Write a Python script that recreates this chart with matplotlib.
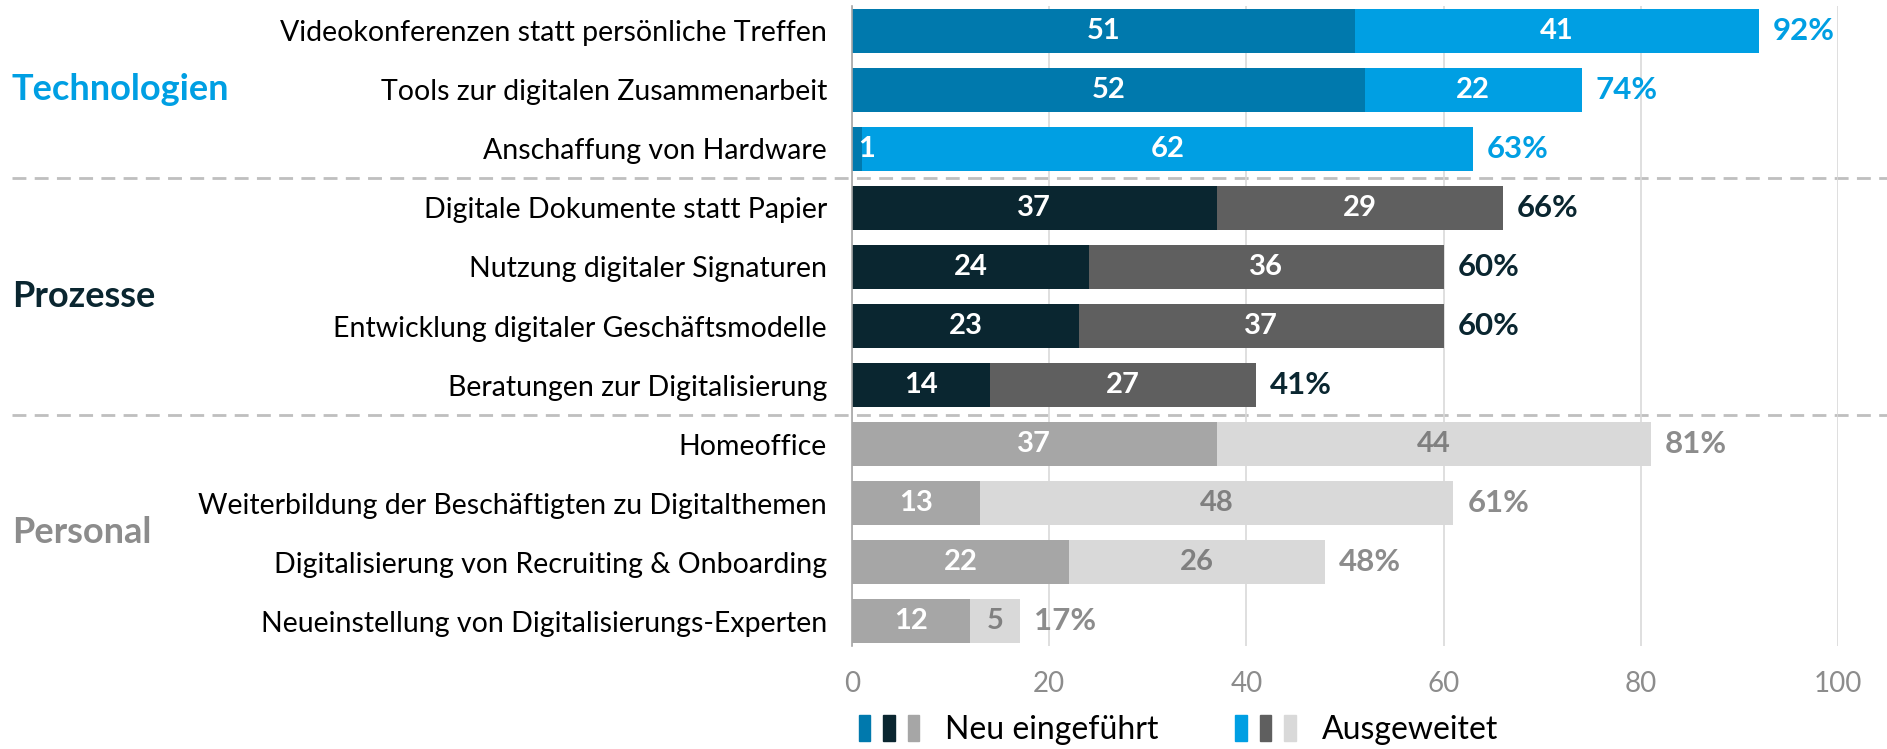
import matplotlib.pyplot as plt
import matplotlib.transforms as mtransforms
from matplotlib.legend_handler import HandlerTuple
from matplotlib.patches import Patch

categories = ["Videokonferenzen statt persönliche Treffen",
              "Tools zur digitalen Zusammenarbeit",
              "Anschaffung von Hardware",
              "Digitale Dokumente statt Papier",
              "Nutzung digitaler Signaturen",
              "Entwicklung digitaler Geschäftsmodelle",
              "Beratungen zur Digitalisierung",
              "Homeoffice",
              "Weiterbildung der Beschäftigten zu Digitalthemen",
              "Digitalisierung von Recruiting & Onboarding",
              "Neueinstellung von Digitalisierungs-Experten"]
new_vals = [51, 52, 1, 37, 24, 23, 14, 37, 13, 22, 12]
exp_vals = [41, 22, 62, 29, 36, 37, 27, 44, 48, 26, 5]
group_of = [0, 0, 0, 1, 1, 1, 1, 2, 2, 2, 2]
group_names = ["Technologien", "Prozesse", "Personal"]
x_ticks = [0, 20, 40, 60, 80, 100]

col_new = ["#0079AD", "#0A2630", "#A6A6A6"]
col_exp = ["#009FE3", "#5F5F5F", "#D9D9D9"]
col_group = ["#009FE3", "#0A2630", "#8C8C8C"]
col_inner_exp = ["white", "white", "#808080"]

plt.rcParams['font.family'] = ['Lato', 'DejaVu Sans']

fig = plt.figure(figsize=(18.87, 7.49), dpi=100)
ax = fig.add_axes([852 / 1887, 1 - 646 / 749, (1838 - 852) / 1887, (646 - 6) / 749])

y = list(range(len(categories)))
h = 0.74
for i in y:
    g = group_of[i]
    n, e = new_vals[i], exp_vals[i]
    ax.barh(i, n, height=h, color=col_new[g], zorder=3)
    ax.barh(i, e, left=n, height=h, color=col_exp[g], zorder=3)
    if n < 3:
        ax.text(0.6, i, str(n), color="white", fontsize=21, fontweight="bold",
                ha="left", va="center", zorder=4)
    else:
        ax.text(n / 2, i, str(n), color="white", fontsize=21, fontweight="bold",
                ha="center", va="center", zorder=4)
    ax.text(n + e / 2, i, str(e), color=col_inner_exp[g], fontsize=21,
            fontweight="bold", ha="center", va="center", zorder=4)
    ax.annotate(f"{n + e}%", (n + e, i), xytext=(10, 0), textcoords="offset points",
                color=col_group[g], fontsize=22.5, fontweight="bold",
                ha="left", va="center")

ax.set_xlim(0, 100)
ax.set_ylim(10.42, -0.42)
ax.set_yticks(y)
ax.set_yticklabels(categories, fontsize=20.5)
ax.set_xticks(x_ticks)
ax.set_xticklabels([str(t) for t in x_ticks], fontsize=20, color="#8C8C8C")
ax.tick_params(axis="y", length=0, pad=18)
ax.tick_params(axis="x", length=0, pad=18)
ax.grid(axis="x", color="#D9D9D9", linewidth=1.2, zorder=0)
for s in ["top", "right", "bottom"]:
    ax.spines[s].set_visible(False)
ax.spines["left"].set_color("#A6A6A6")
ax.spines["left"].set_linewidth(1.2)
ax.spines["left"].set_zorder(5)

# dashed separators between groups
trans = mtransforms.blended_transform_factory(fig.transFigure, ax.transData)
for yy in [2.5, 6.5]:
    ax.plot([12 / 1887, 1.0], [yy, yy], transform=trans, color="#BFBFBF",
            linestyle=(0, (5, 3)), linewidth=2, clip_on=False, zorder=1)

# group labels
for g, (name, yc) in enumerate(zip(group_names, [1, 4.5, 8.5])):
    ax.text(12 / 1887, yc, name, transform=trans, color=col_group[g],
            fontsize=26, fontweight="bold", ha="left", va="center")

# legend
h_new = tuple(Patch(color=c) for c in col_new)
h_exp = tuple(Patch(color=c) for c in col_exp)
fig.legend([h_new, h_exp], ["Neu eingeführt", "Ausgeweitet"],
           handler_map={tuple: HandlerTuple(ndivide=None, pad=0.4)},
           loc="center left", bbox_to_anchor=(830 / 1887, 1 - 730 / 749),
           ncol=2, frameon=False, fontsize=23, handlelength=1.9, handleheight=0.9,
           columnspacing=2.4, handletextpad=0.8)

fig.savefig("out.png", dpi=100)
